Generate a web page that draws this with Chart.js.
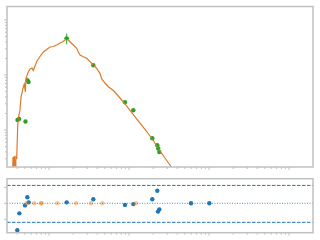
<!DOCTYPE html>
<html>
<head>
<meta charset="utf-8">
<script src="https://cdn.jsdelivr.net/npm/chart.js@4.4.1/dist/chart.umd.min.js"></script>
<style>
  body { margin: 0; background: #fff; }
  #wrap { position: relative; width: 320px; height: 240px; }
  canvas { position: absolute; left: 0; }
  #top { top: 0; }
  #bottom { top: 172px; }
</style>
</head>
<body>
<div id="wrap">
  <canvas id="top" width="320" height="174"></canvas>
  <canvas id="bottom" width="320" height="68"></canvas>
</div>
<script>
// axis ranges
var xMin = 0.02985, xMax = 199.5;
var yMin = 0.2125, yMax = 176;
var resMin = -1.84, resMax = 1.54;
var resTicks = [-1, 0, 1];
var resLimitHi = 1.12, resLimitLo = -1.19;

// model curve
var modelX = [0.0350, 0.0355, 0.0361, 0.0368, 0.0376, 0.0385, 0.0395, 0.0406, 0.0413, 0.0434,
  0.0447, 0.0477, 0.0491, 0.0506, 0.0516, 0.0551, 0.0579, 0.0613, 0.0637, 0.0668,
  0.0708, 0.0772, 0.0849, 0.0936, 0.1029, 0.1132, 0.1248, 0.1373, 0.151, 0.1664,
  0.183, 0.2013, 0.222, 0.2324, 0.244, 0.2685, 0.296, 0.3255, 0.358, 0.3947,
  0.434, 0.456, 0.501, 0.551, 0.608, 0.637, 0.735, 0.891, 1.132, 1.373,
  1.664, 2.013, 2.44, 3.35, 5.96, 10.3];
var modelY = [0.152, 0.323, 0.204, 0.337, 0.222, 0.323, 0.310, 1.148, 1.633, 2.31,
  3.98, 6.05, 6.85, 4.91, 8.82, 11.34, 12.85, 13.4, 12.07, 14.58,
  17.97, 21.7, 26.2, 29.1, 32.3, 33.0, 35.1, 38.2, 40.6, 46.4,
  40.3, 35.1, 30.6, 26.2, 23.1, 21.5, 20.1, 17.46, 15.2, 13.24,
  10.74, 8.46, 7.15, 6.13, 5.5, 5.23, 4.15, 2.97, 1.913, 1.34,
  0.939, 0.644, 0.415, 0.217, 0.0716, 0.0241];

// observed points
var obsX = [0.0404, 0.0422, 0.0508, 0.0539, 0.0555, 0.1664, 0.358, 0.891, 1.132, 1.955, 2.258, 2.317, 2.392, 5.96, 10.09];
var obsY = [1.52, 1.585, 1.43, 7.94, 7.46, 46.4, 15.0, 3.19, 2.28, 0.706, 0.527, 0.461, 0.398, 0.072, 0.025];
var obsYErr = [0.05, 0.05, 0.05, 0.12, 0.05, 0.22, 0.05, 0.05, 0.05, 0.05, 0.05, 0.05, 0.05, 0.05, 0.05];
var obsXErr = [0, 0, 0, 0, 0, 0.07, 0, 0, 0, 0, 0, 0, 0, 0, 0];

// residuals
var resX = [0.0402, 0.0426, 0.0501, 0.0536, 0.0557, 0.1664, 0.358, 0.891, 1.132, 1.955, 2.258, 2.304, 2.392, 5.96, 10.09];
var resY = [-1.69, -0.63, -0.13, 0.38, 0.06, 0.06, 0.25, -0.10, -0.05, 0.25, 0.79, -0.52, -0.38, 0.0, 0.0];
var limX = [0.0526, 0.0655, 0.0788, 0.0811, 0.127, 0.2175, 0.335, 0.4637, 1.223];
var limY = [0, 0, 0, 0, 0, 0, 0, 0, 0];

var spineColor = '#c0c0c0';

function pts(xs, ys) {
  return xs.map(function (x, i) { return {x: x, y: ys[i]}; });
}

function logTicks(scale) {
  var out = [];
  for (var e = Math.floor(Math.log10(scale.min)); e <= Math.ceil(Math.log10(scale.max)); e++) {
    for (var m = 1; m < 10; m++) {
      var v = m * Math.pow(10, e);
      if (v >= scale.min && v <= scale.max) out.push({value: v, major: m === 1});
    }
  }
  scale.ticks = out;
}

function resTickBuild(scale) {
  scale.ticks = resTicks.map(function (v) { return {value: v, major: true}; });
}

var frame = {
  id: 'frame',
  afterDraw: function (chart) {
    var ctx = chart.ctx, a = chart.chartArea, sx = chart.scales.x, sy = chart.scales.y;
    ctx.save();
    ctx.strokeStyle = spineColor;
    ctx.lineWidth = 1;
    sx.ticks.forEach(function (t) {
      var px = sx.getPixelForValue(t.value);
      if (px < a.left + 1 || px > a.right - 1) return;
      ctx.beginPath();
      ctx.moveTo(px, a.bottom);
      ctx.lineTo(px, a.bottom + (t.major ? 3 : 2));
      ctx.stroke();
    });
    sy.ticks.forEach(function (t) {
      var py = sy.getPixelForValue(t.value);
      if (py < a.top + 1 || py > a.bottom - 1) return;
      ctx.beginPath();
      ctx.moveTo(a.left, py);
      ctx.lineTo(a.left - (t.major ? 3 : 2), py);
      ctx.stroke();
    });
    ctx.lineWidth = 1.5;
    ctx.strokeRect(a.left, a.top, a.right - a.left, a.bottom - a.top);
    ctx.restore();
  }
};

var errorBars = {
  id: 'errorBars',
  afterDatasetsDraw: function (chart) {
    var ctx = chart.ctx, a = chart.chartArea, sx = chart.scales.x, sy = chart.scales.y;
    ctx.save();
    ctx.beginPath();
    ctx.rect(a.left, a.top, a.right - a.left, a.bottom - a.top);
    ctx.clip();
    ctx.strokeStyle = '#2ca02c';
    ctx.lineWidth = 1;
    obsX.forEach(function (x, i) {
      var px = sx.getPixelForValue(x), py = sy.getPixelForValue(obsY[i]);
      ctx.beginPath();
      ctx.moveTo(px, sy.getPixelForValue(obsY[i] * (1 - obsYErr[i])));
      ctx.lineTo(px, sy.getPixelForValue(obsY[i] * (1 + obsYErr[i])));
      if (obsXErr[i] > 0) {
        ctx.moveTo(sx.getPixelForValue(x * (1 - obsXErr[i])), py);
        ctx.lineTo(sx.getPixelForValue(x * (1 + obsXErr[i])), py);
      }
      ctx.stroke();
    });
    ctx.restore();
  }
};

function axisBase() {
  return {
    display: true,
    grid: {display: false, drawTicks: false},
    border: {display: false},
    ticks: {display: false}
  };
}

var topX = axisBase();
topX.type = 'logarithmic'; topX.min = xMin; topX.max = xMax; topX.afterBuildTicks = logTicks;
var topY = axisBase();
topY.type = 'logarithmic'; topY.min = yMin; topY.max = yMax; topY.afterBuildTicks = logTicks;

new Chart(document.getElementById('top').getContext('2d'), {
  type: 'scatter',
  data: {
    datasets: [{
      data: pts(modelX, modelY),
      showLine: true,
      borderColor: '#dd7a28',
      borderWidth: 1.2,
      pointRadius: 0,
      clip: 0
    }, {
      data: pts(obsX, obsY),
      backgroundColor: '#2ca02c',
      borderColor: '#2ca02c',
      pointRadius: 2.2,
      borderWidth: 0,
      clip: 0
    }]
  },
  options: {
    responsive: false,
    animation: false,
    layout: {padding: {left: 7, right: 7, top: 6.5, bottom: 7}},
    plugins: {legend: {display: false}, tooltip: {enabled: false}},
    scales: {x: topX, y: topY}
  },
  plugins: [errorBars, frame]
});

var botX = axisBase();
botX.type = 'logarithmic'; botX.min = xMin; botX.max = xMax; botX.afterBuildTicks = logTicks;
var botY = axisBase();
botY.type = 'linear'; botY.min = resMin; botY.max = resMax; botY.afterBuildTicks = resTickBuild;

new Chart(document.getElementById('bottom').getContext('2d'), {
  type: 'scatter',
  data: {
    datasets: [{
      data: pts([xMin, xMax], [resLimitHi, resLimitHi]),
      showLine: true, pointRadius: 0,
      borderColor: '#1f77b4', borderWidth: 1, borderDash: [3.5, 1.5]
    }, {
      data: pts([xMin, xMax], [resLimitLo, resLimitLo]),
      showLine: true, pointRadius: 0,
      borderColor: '#1f77b4', borderWidth: 1, borderDash: [3.5, 1.5]
    }, {
      data: pts([xMin, xMax], [0, 0]),
      showLine: true, pointRadius: 0,
      borderColor: 'rgba(31,119,180,0.8)', borderWidth: 1, borderDash: [1, 1.5]
    }, {
      data: pts(limX, limY),
      backgroundColor: 'rgba(255,127,14,0.45)',
      pointRadius: 2.2, borderWidth: 0
    }, {
      data: pts(resX, resY),
      backgroundColor: '#1f77b4',
      pointRadius: 2.2, borderWidth: 0
    }]
  },
  options: {
    responsive: false,
    animation: false,
    layout: {padding: {left: 7, right: 7, top: 6.7, bottom: 7.3}},
    plugins: {legend: {display: false}, tooltip: {enabled: false}},
    scales: {x: botX, y: botY}
  },
  plugins: [frame]
});
</script>
</body>
</html>
